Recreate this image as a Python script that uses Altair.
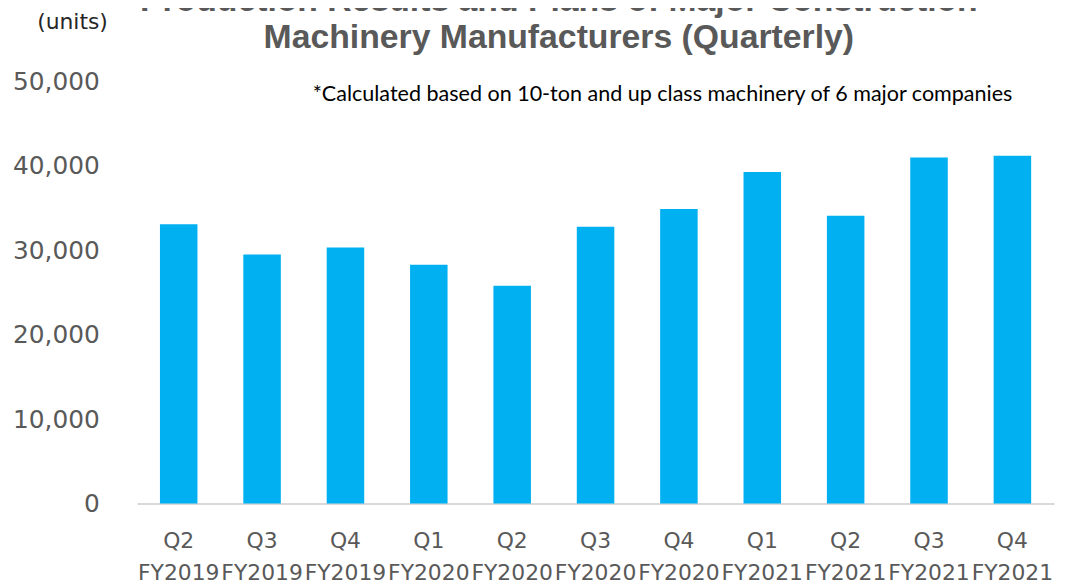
import altair as alt
import pandas as pd

quarters = ["Q2", "Q3", "Q4", "Q1", "Q2", "Q3", "Q4", "Q1", "Q2", "Q3", "Q4"]
fiscal_years = ["FY2019", "FY2019", "FY2019", "FY2020", "FY2020", "FY2020",
                "FY2020", "FY2021", "FY2021", "FY2021", "FY2021"]
units = [33100, 29500, 30350, 28300, 25800, 32800, 34900, 39300, 34100, 41000, 41200]

title_lines = ["Production Results and Plans of Major Construction",
               "Machinery Manufacturers (Quarterly)"]
unit_label = ["(units)"]
note = ["*Calculated based on 10-ton and up class machinery of 6 major companies"]

labels = [f"{q}|{fy}" for q, fy in zip(quarters, fiscal_years)]
df = pd.DataFrame({"period": labels, "units": units})

W, H = 924, 425

bars = alt.Chart(df).mark_bar(color="#00B0F0").encode(
    x=alt.X("period:N", sort=labels, title=None,
            scale=alt.Scale(paddingInner=0.55, paddingOuter=0.275),
            axis=alt.Axis(labelExpr="split(datum.label, '|')", labelAngle=0,
                          labelFont="DejaVu Sans", labelFontSize=22,
                          labelColor="#595959", labelLineHeight=33,
                          labelPadding=27, ticks=False, domainColor="#D9D9D9",
                          domainWidth=2)),
    y=alt.Y("units:Q", title=None,
            scale=alt.Scale(domain=[0, 50000]),
            axis=alt.Axis(values=[0, 10000, 20000, 30000, 40000, 50000], format=",.0f",
                          grid=False, domain=False, ticks=False,
                          labelFont="DejaVu Sans", labelFontSize=25,
                          labelColor="#595959", labelPadding=38)),
)

t1 = alt.Chart(pd.DataFrame({"t": [title_lines[0]]})).mark_text(
    font="Liberation Sans", fontWeight="bold", fontSize=34, color="#595959",
    align="center", baseline="alphabetic").encode(
    text="t:N", x=alt.value(425), y=alt.value(-71))
t2 = alt.Chart(pd.DataFrame({"t": [title_lines[1]]})).mark_text(
    font="Liberation Sans", fontWeight="bold", fontSize=34, color="#595959",
    align="center", baseline="alphabetic").encode(
    text="t:N", x=alt.value(425), y=alt.value(-34))
u = alt.Chart(pd.DataFrame({"t": unit_label})).mark_text(
    font="DejaVu Sans", fontSize=22, color="#262626",
    align="center", baseline="middle").encode(
    text="t:N", x=alt.value(-65), y=alt.value(-60))
n = alt.Chart(pd.DataFrame({"t": note})).mark_text(
    font="Lato", fontSize=21.7, color="#000000",
    align="left", baseline="middle").encode(
    text="t:N", x=alt.value(177), y=alt.value(13))

chart = alt.layer(bars, t1, t2, u, n).properties(
    width=W, height=H,
    autosize=alt.AutoSizeParams(type="none"),
    padding={"left": 130, "top": 72, "right": 10, "bottom": 80},
).configure_view(stroke=None)

chart.save("out.html", embed_options={"renderer": "svg", "actions": False})
